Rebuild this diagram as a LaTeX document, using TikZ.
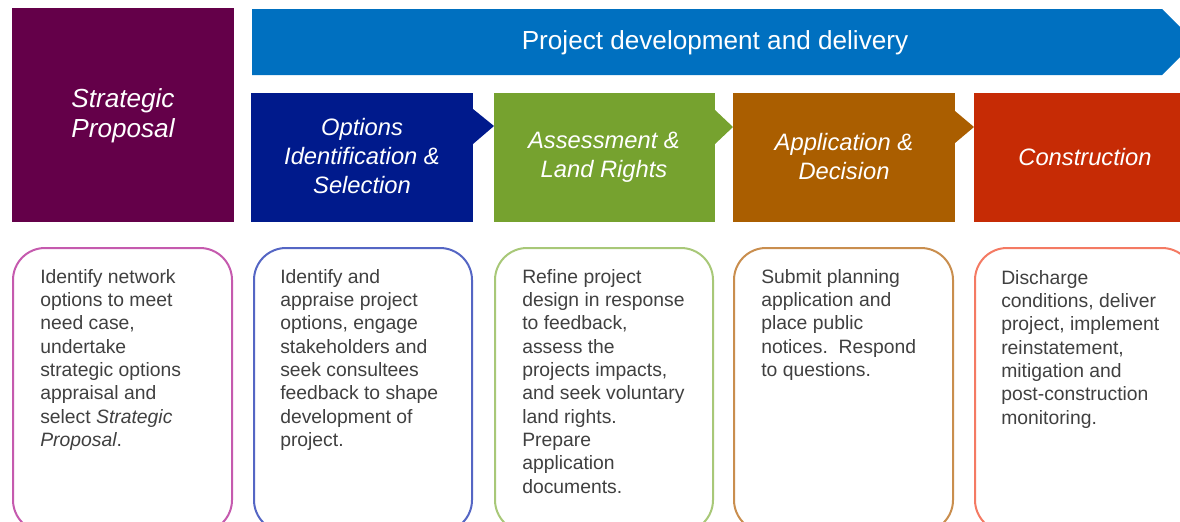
\documentclass[tikz,border=0pt]{standalone}
\usepackage{fontspec}
\setmainfont{Liberation Sans}

% stage colours
\definecolor{stratpurple}{HTML}{640049}
\definecolor{bannerblue}{HTML}{0070C0}
\definecolor{optnavy}{HTML}{001A8C}
\definecolor{assgreen}{HTML}{76A22F}
\definecolor{appbrown}{HTML}{AA5E00}
\definecolor{conred}{HTML}{C62B05}
% description box outlines and text
\definecolor{edgeone}{HTML}{C55AAE}
\definecolor{edgetwo}{HTML}{5566C4}
\definecolor{edgethree}{HTML}{A8C878}
\definecolor{edgefour}{HTML}{C98E4E}
\definecolor{edgefive}{HTML}{F47A63}
\definecolor{bodygray}{HTML}{404040}

\begin{document}
\begin{tikzpicture}[x=0.75pt,y=-0.75pt,
  stagelabel/.style={text=white, align=center, inner sep=0pt,
    font=\fontsize{17.8}{21.75}\selectfont\itshape},
  bodytext/.style={text=bodygray, align=left, anchor=north west, inner sep=0pt,
    font=\fontsize{14.5}{17.5}\selectfont},
  infobox/.style={line width=1.5pt, rounded corners=24pt, fill=white}]

\useasboundingbox (0,0) rectangle (1180,521);
\clip (0,0) rectangle (1180,521);

% strategic proposal block
\fill[stratpurple] (12,8) rectangle (234,222);
\node[stagelabel, font=\fontsize{19.6}{22.5}\selectfont\itshape] (strategic) at (123,116) {Strategic\\Proposal};

% overall banner arrow
\fill[bannerblue] (252,9) -- (1162,9) -- (1195,42) -- (1162,75) -- (252,75) -- cycle;
\node[text=white, inner sep=0pt, font=\fontsize{19.6}{22}\selectfont] (banner) at (715,43) {Project development and delivery};

% stage chevrons
\fill[optnavy] (251,93) rectangle (473,222);
\fill[optnavy] (473,109) -- (494,126) -- (473,144) -- cycle;
\node[stagelabel] (options) at (362,156) {Options\\Identification \&\\Selection};

\fill[assgreen] (494,93) rectangle (715,222);
\fill[assgreen] (715,110) -- (733,127) -- (715,144) -- cycle;
\node[stagelabel] (assessment) at (604,157.5) {Assessment \&\\Land Rights};

\fill[appbrown] (733,93) rectangle (955,222);
\fill[appbrown] (955,111) -- (974,127) -- (955,143) -- cycle;
\node[stagelabel] (application) at (844,156.5) {Application \&\\Decision};

\fill[conred] (974,93) rectangle (1195,222);
\node[stagelabel] (construction) at (1085,157) {Construction};

% description boxes
\draw[infobox, draw=edgeone]   (13,248) rectangle (232,532);
\draw[infobox, draw=edgetwo]   (254,248) rectangle (472,532);
\draw[infobox, draw=edgethree] (495,248) rectangle (713,532);
\draw[infobox, draw=edgefour]  (734,248) rectangle (953,532);
\draw[infobox, draw=edgefive]  (975,248) rectangle (1194,532);

\node[bodytext] (descone) at (40,266.7) {\strut Identify network\\options to meet\\need case,\\undertake\\strategic options\\appraisal and\\select \textit{Strategic}\\\textit{Proposal}.};
\node[bodytext] (desctwo) at (280,266.7) {\strut Identify and\\appraise project\\options, engage\\stakeholders and\\seek consultees\\feedback to shape\\development of\\project.};
\node[bodytext] (descthree) at (522,266.7) {\strut Refine project\\design in response\\to feedback,\\assess the\\projects impacts,\\and seek voluntary\\land rights.\\Prepare\\application\\documents.};
\node[bodytext] (descfour) at (761,266.7) {\strut Submit planning\\application and\\place public\\notices.\ \ Respond\\to questions.};
\node[bodytext] (descfive) at (1001,267.7) {\strut Discharge\\conditions, deliver\\project, implement\\reinstatement,\\mitigation and\\post-construction\\monitoring.};

\end{tikzpicture}
\end{document}
